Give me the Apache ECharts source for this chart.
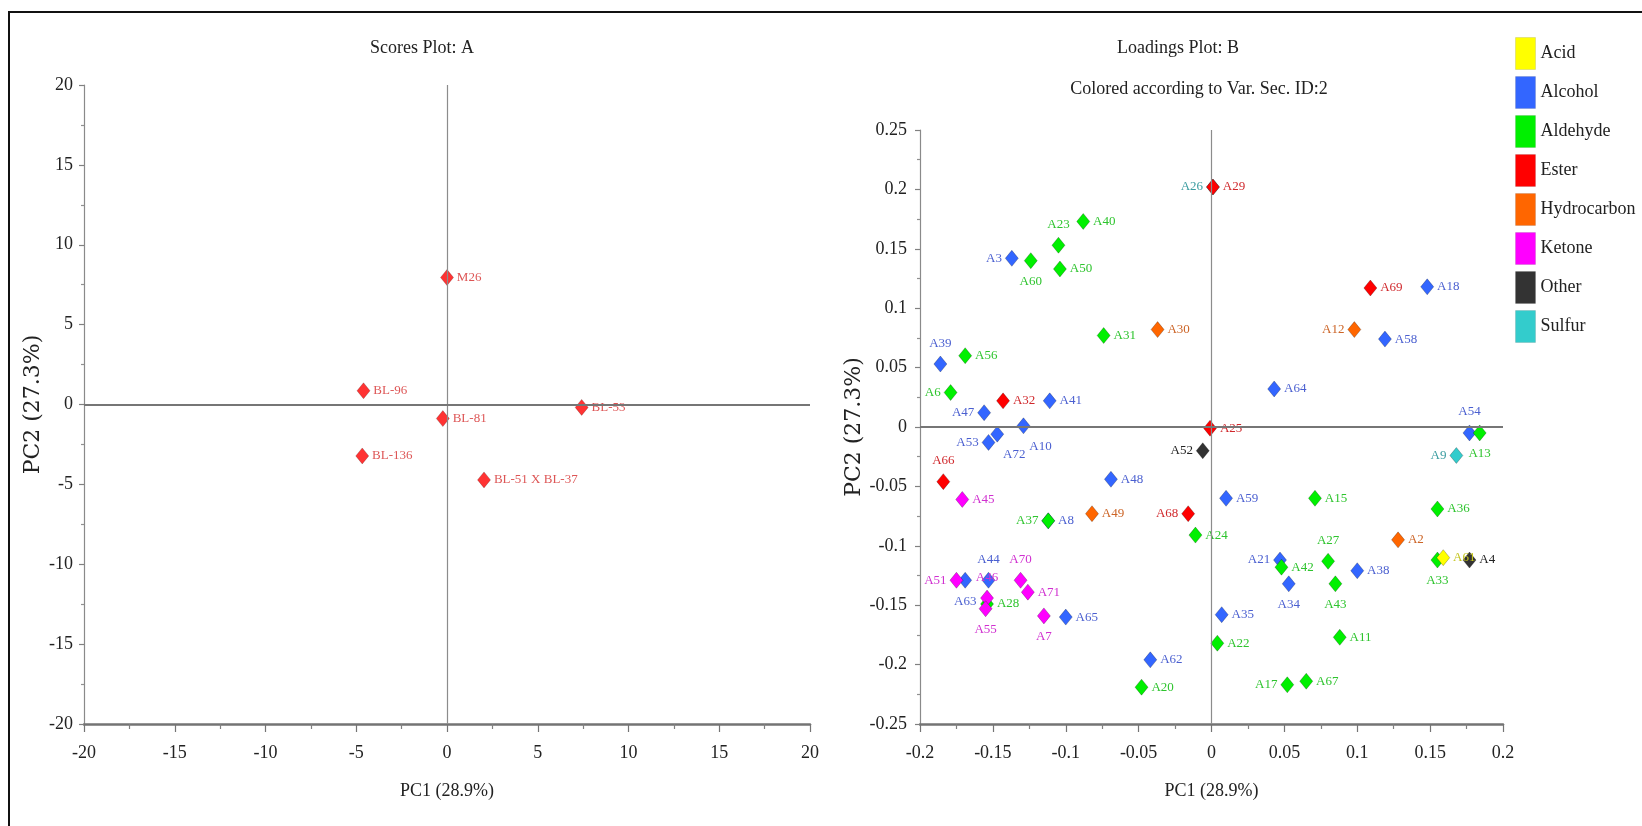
<!DOCTYPE html>
<html>
<head>
<meta charset="utf-8">
<title>PCA scores and loadings</title>
<script src="https://cdn.jsdelivr.net/npm/echarts@6.0.0/dist/echarts.min.js"></script>
<style>
  html, body { margin: 0; padding: 0; background: #fff; }
  #main { width: 1642px; height: 826px; }
</style>
</head>
<body>
<div id="main"></div>
<script>
// ---- scores (plot A) ----
var scoreNames = ['M26', 'BL-96', 'BL-81', 'BL-53', 'BL-136', 'BL-51 X BL-37'];
var scorePC1 = [0.0, -4.6, -0.23, 7.42, -4.67, 2.04];
var scorePC2 = [7.95, 0.86, -0.88, -0.18, -3.22, -4.72];

// ---- loadings (plot B) ----
var varClasses = ['Acid', 'Alcohol', 'Aldehyde', 'Ester', 'Hydrocarbon', 'Ketone', 'Other', 'Sulfur'];

var varIds = [
  // alcohol
  'A3', 'A39', 'A47', 'A41', 'A10', 'A72', 'A53', 'A48', 'A8', 'A63', 'A44',
  'A65', 'A62', 'A64', 'A18', 'A58', 'A54', 'A59', 'A21', 'A34', 'A38', 'A35',
  // aldehyde
  'A23', 'A40', 'A60', 'A50', 'A31', 'A56', 'A6', 'A37', 'A28', 'A24', 'A20',
  'A22', 'A15', 'A36', 'A27', 'A42', 'A43', 'A33', 'A13', 'A11', 'A17', 'A67',
  // ester
  'A29', 'A32', 'A66', 'A68', 'A25', 'A69',
  // hydrocarbon
  'A30', 'A49', 'A12', 'A2',
  // ketone
  'A45', 'A51', 'A46', 'A55', 'A70', 'A71', 'A7',
  // other, sulfur, acid
  'A52', 'A4', 'A26', 'A9', 'A61'
];
var varPC1 = [
  -0.137, -0.186, -0.156, -0.111, -0.129, -0.147, -0.153, -0.069, -0.112, -0.169, -0.153,
  -0.100, -0.042, 0.043, 0.148, 0.119, 0.177, 0.010, 0.047, 0.053, 0.100, 0.007,
  -0.105, -0.088, -0.124, -0.104, -0.074, -0.169, -0.179, -0.112, -0.154, -0.011, -0.048,
  0.004, 0.071, 0.155, 0.080, 0.048, 0.085, 0.155, 0.184, 0.088, 0.052, 0.065,
  0.001, -0.143, -0.184, -0.016, -0.001, 0.109,
  -0.037, -0.082, 0.098, 0.128,
  -0.171, -0.175, -0.154, -0.155, -0.131, -0.126, -0.115,
  -0.006, 0.177, 0.001, 0.168, 0.159
];
var varPC2 = [
  0.142, 0.053, 0.012, 0.022, 0.001, -0.006, -0.013, -0.044, -0.079, -0.129, -0.129,
  -0.160, -0.196, 0.032, 0.118, 0.074, -0.005, -0.060, -0.112, -0.132, -0.121, -0.158,
  0.153, 0.173, 0.140, 0.133, 0.077, 0.060, 0.029, -0.079, -0.149, -0.091, -0.219,
  -0.182, -0.060, -0.069, -0.113, -0.118, -0.132, -0.112, -0.005, -0.177, -0.217, -0.214,
  0.202, 0.022, -0.046, -0.073, -0.001, 0.117,
  0.082, -0.073, 0.082, -0.095,
  -0.061, -0.129, -0.144, -0.153, -0.129, -0.139, -0.159,
  -0.020, -0.112, 0.202, -0.024, -0.110
];
var varClass = [].concat(
  Array(22).fill('Alcohol'),
  Array(22).fill('Aldehyde'),
  Array(6).fill('Ester'),
  Array(4).fill('Hydrocarbon'),
  Array(7).fill('Ketone'),
  ['Other', 'Other', 'Sulfur', 'Sulfur', 'Acid']
);

// ---- styling ----
var serif = '"Liberation Serif", "Times New Roman", serif';
var classColor = {
  Acid: '#ffff00', Alcohol: '#3366ff', Aldehyde: '#00f000', Ester: '#ff0000',
  Hydrocarbon: '#ff6600', Ketone: '#ff00ff', Other: '#333333', Sulfur: '#33cccc'
};
var labelColor = {
  Acid: '#c4c41c', Alcohol: '#4a5fd0', Aldehyde: '#2ec42e', Ester: '#d0282c',
  Hydrocarbon: '#cc6426', Ketone: '#d030d0', Other: '#222222', Sulfur: '#3a9ca0'
};
var classZ = { Sulfur: 2, Alcohol: 3, Aldehyde: 4, Ester: 4, Hydrocarbon: 4, Other: 4, Ketone: 5, Acid: 6 };

// where each label sits relative to its diamond (default right)
var labelSide = {
  A3: 'left', A47: 'left', A53: 'left', A21: 'left', A6: 'left', A37: 'left', A17: 'left',
  A68: 'left', A12: 'left', A51: 'left', A52: 'left', A26: 'left', A9: 'left',
  A39: 'top', A44: 'top', A54: 'top', A23: 'top', A27: 'top', A66: 'top', A46: 'top', A70: 'top',
  A63: 'bottom', A34: 'bottom', A60: 'bottom', A43: 'bottom', A33: 'bottom', A13: 'bottom',
  A55: 'bottom', A7: 'bottom', A10: 'bottom', A72: 'bottom'
};
var labelShift = { A10: [17, 0], A72: [17, 0] };

var chart = echarts.init(document.getElementById('main'));

var scoreData = scoreNames.map(function (n, i) {
  return { name: n, value: [scorePC1[i], scorePC2[i]] };
});

var loadingSeries = varClasses.map(function (cls) {
  var data = [];
  for (var i = 0; i < varIds.length; i++) {
    if (varClass[i] !== cls) continue;
    var side = labelSide[varIds[i]] || 'right';
    var item = {
      name: varIds[i],
      value: [varPC1[i], varPC2[i]],
      label: { position: side, distance: (side === 'top' || side === 'bottom') ? 6 : 3 }
    };
    if (labelShift[varIds[i]]) item.label.offset = labelShift[varIds[i]];
    data.push(item);
  }
  return {
    name: cls,
    type: 'scatter',
    xAxisIndex: 1,
    yAxisIndex: 1,
    symbol: 'diamond',
    symbolSize: [13, 16],
    z: classZ[cls],
    itemStyle: { color: classColor[cls], borderColor: 'rgba(0,0,0,0.3)', borderWidth: 0.8, opacity: 1 },
    label: { show: true, formatter: '{b}', color: labelColor[cls], fontFamily: serif, fontSize: 13 },
    emphasis: { disabled: true },
    data: data
  };
});

function zeroLines(xi) {
  return {
    type: 'scatter',
    xAxisIndex: xi,
    yAxisIndex: xi,
    data: [[0, 0]],
    symbolSize: 0,
    silent: true,
    z: 1,
    markLine: {
      silent: true,
      symbol: 'none',
      animation: false,
      label: { show: false },
      data: [
        { xAxis: 0, lineStyle: { color: '#8c8c8c', width: 1.2, type: 'solid' } },
        { yAxis: 0, lineStyle: { color: '#767676', width: 2, type: 'solid' } }
      ]
    }
  };
}

function xAxisOf(grid, min, max, step) {
  return {
    gridIndex: grid, type: 'value', min: min, max: max, interval: step,
    name: 'PC1 (28.9%)', nameLocation: 'middle', nameGap: 58,
    nameTextStyle: { fontFamily: serif, fontSize: 18, color: '#222' },
    axisLine: { show: true, onZero: false, lineStyle: { color: '#747474', width: 2.5 } },
    axisTick: { show: true, inside: false, length: 8, lineStyle: { color: '#747474', width: 1.2 } },
    minorTick: { show: true, splitNumber: 2, length: 5, lineStyle: { color: '#808080', width: 1.2 } },
    axisLabel: { fontFamily: serif, fontSize: 18, color: '#222', margin: 20 },
    splitLine: { show: false },
    minorSplitLine: { show: false }
  };
}
function yAxisOf(grid, min, max, step, gap, margin) {
  return {
    gridIndex: grid, type: 'value', min: min, max: max, interval: step,
    name: 'PC2 (27.3%)', nameLocation: 'middle', nameGap: gap,
    nameTextStyle: { fontFamily: '"DejaVu Serif", serif', fontSize: 22, color: '#222' },
    axisLine: { show: true, onZero: false, lineStyle: { color: '#8a8a8a', width: 1.2 } },
    axisTick: { show: true, inside: false, length: 5, lineStyle: { color: '#808080', width: 1.2 } },
    minorTick: { show: true, splitNumber: 2, length: 3, lineStyle: { color: '#909090', width: 1.2 } },
    axisLabel: { fontFamily: serif, fontSize: 18, color: '#222', margin: margin },
    splitLine: { show: false },
    minorSplitLine: { show: false }
  };
}

var titleStyle = { fontFamily: serif, fontSize: 18, fontWeight: 'normal', color: '#222' };

chart.setOption({
  backgroundColor: '#ffffff',
  animation: false,
  title: [
    { text: 'Scores Plot: A', left: 422, top: 39, textAlign: 'center', padding: 0, textStyle: titleStyle },
    { text: 'Loadings Plot: B', left: 1178, top: 39, textAlign: 'center', padding: 0, textStyle: titleStyle },
    { text: 'Colored according to Var. Sec. ID:2', left: 1199, top: 80, textAlign: 'center', padding: 0, textStyle: titleStyle }
  ],
  legend: {
    data: varClasses,
    orient: 'vertical',
    left: 1515,
    top: 37,
    padding: 0,
    itemWidth: 20,
    itemHeight: 32,
    itemGap: 6,
    icon: 'rect',
    selectedMode: false,
    itemStyle: { borderWidth: 1, borderColor: 'rgba(0,0,0,0.1)' },
    textStyle: { fontFamily: serif, fontSize: 18, color: '#222' }
  },
  graphic: [{
    type: 'rect',
    silent: true,
    z: -1,
    shape: { x: 9, y: 12, width: 1700, height: 900 },
    style: { fill: 'none', stroke: '#111', lineWidth: 2 }
  }],
  grid: [
    { left: 84, top: 85, width: 726, height: 639, containLabel: false, outerBoundsMode: 'none' },
    { left: 920, top: 130, width: 583, height: 594, containLabel: false, outerBoundsMode: 'none' }
  ],
  xAxis: [xAxisOf(0, -20, 20, 5), xAxisOf(1, -0.2, 0.2, 0.05)],
  yAxis: [yAxisOf(0, -20, 20, 5, 40, 11), yAxisOf(1, -0.25, 0.25, 0.05, 41, 13)],
  series: [
    zeroLines(0),
    zeroLines(1),
    {
      name: 'Scores',
      type: 'scatter',
      xAxisIndex: 0,
      yAxisIndex: 0,
      symbol: 'diamond',
      symbolSize: [13, 16],
      z: 3,
      itemStyle: { color: '#ff0000', borderColor: 'rgba(0,0,0,0.3)', borderWidth: 0.8 },
      label: { show: true, position: 'right', distance: 3, formatter: '{b}', color: '#d42a2a', fontFamily: serif, fontSize: 13 },
      emphasis: { disabled: true },
      data: scoreData
    }
  ].concat(loadingSeries)
});
</script>
</body>
</html>
